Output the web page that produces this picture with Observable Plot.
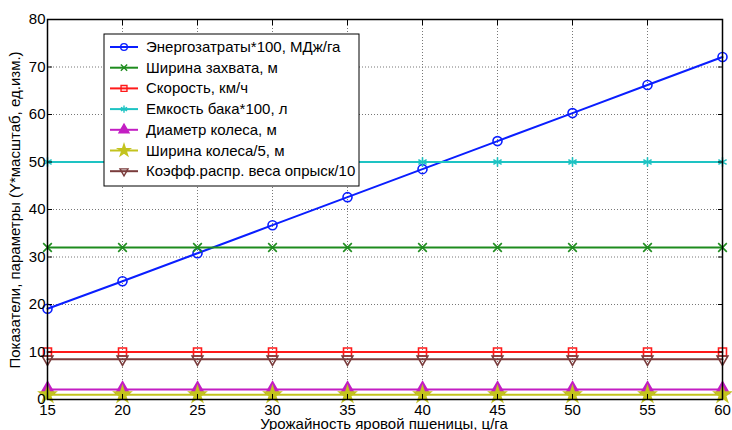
<!DOCTYPE html>
<html>
<head>
<meta charset="utf-8">
<script src="https://cdn.jsdelivr.net/npm/d3@7"></script>
<script src="https://cdn.jsdelivr.net/npm/@observablehq/plot@0.6"></script>
<style>
  html, body { margin: 0; padding: 0; background: #fff; }
  #chart { width: 732px; height: 430px; overflow: hidden; }
  svg { font-family: "Liberation Sans", Arial, sans-serif; }
</style>
</head>
<body>
<div id="chart"></div>
<script>
const yieldX = [15, 20, 25, 30, 35, 40, 45, 50, 55, 60];
const energy = [19.1, 24.9, 30.8, 36.7, 42.6, 48.5, 54.4, 60.3, 66.2, 72.1];
const gripWidth = [32, 32, 32, 32, 32, 32, 32, 32, 32, 32];
const speed = [10, 10, 10, 10, 10, 10, 10, 10, 10, 10];
const tank = [50, 50, 50, 50, 50, 50, 50, 50, 50, 50];
const wheelDiam = [2.1, 2.1, 2.1, 2.1, 2.1, 2.1, 2.1, 2.1, 2.1, 2.1];
const wheelWidth = [1.0, 1.0, 1.0, 1.0, 1.0, 1.0, 1.0, 1.0, 1.0, 1.0];
const coeff = [8.5, 8.5, 8.5, 8.5, 8.5, 8.5, 8.5, 8.5, 8.5, 8.5];

const seriesNames = [
  "Энергозатраты*100, МДж/га",
  "Ширина захвата, м",
  "Скорость, км/ч",
  "Емкость бака*100, л",
  "Диаметр колеса, м",
  "Ширина колеса/5, м",
  "Коэфф.распр. веса опрыск/10"
];
const xTicks = [15, 20, 25, 30, 35, 40, 45, 50, 55, 60];
const yTicks = [0, 10, 20, 30, 40, 50, 60, 70, 80];
const xLabel = "Урожайность яровой пшеницы, ц/га";
const yLabel = "Показатели, параметры (Y*масштаб, ед.изм.)";

const triDown = {
  draw(context, size) {
    const s3 = Math.sqrt(3);
    const y = -Math.sqrt(size / (s3 * 3));
    context.moveTo(0, -y * 2);
    context.lineTo(-s3 * y, y);
    context.lineTo(s3 * y, y);
    context.closePath();
  }
};

const styles = [
  {color: "#0a1eff", symbol: "circle", fill: "none", r: 4.5},
  {color: "#1e8c1e", symbol: "times", fill: "none", r: 4},
  {color: "#ff1a1a", symbol: "square", fill: "none", r: 4.5},
  {color: "#1ec3c3", symbol: "asterisk", fill: "none", r: 4.5},
  {color: "#c31ec3", symbol: "triangle", fill: "#c31ec3", r: 5},
  {color: "#c3c31e", symbol: "star", fill: "#c3c31e", r: 5},
  {color: "#7a3c3c", symbol: triDown, fill: "none", r: 4}
];
const seriesValues = [energy, gripWidth, speed, tank, wheelDiam, wheelWidth, coeff];

const rows = [];
seriesValues.forEach((vals, i) => vals.forEach((v, j) => rows.push({s: i, x: yieldX[j], y: v})));

const marks = [
  Plot.gridX(xTicks, {stroke: "#777", strokeOpacity: 1, strokeDasharray: "1,2"}),
  Plot.gridY(yTicks, {stroke: "#777", strokeOpacity: 1, strokeDasharray: "1,2"}),
];
styles.forEach((st, i) => {
  const d = rows.filter(r => r.s === i);
  marks.push(Plot.line(d, {x: "x", y: "y", stroke: st.color, strokeWidth: 2}));
  marks.push(Plot.dot(d, {x: "x", y: "y", stroke: st.color, fill: st.fill, symbol: () => st.symbol, r: st.r, strokeWidth: 1.6}));
});
marks.push(
  Plot.axisX(xTicks, {anchor: "bottom", tickSize: -5, tickPadding: 10, fontSize: 15, fill: "#000", stroke: "#000", label: null}),
  Plot.axisX(xTicks, {anchor: "top", tickSize: -5, text: null, stroke: "#000", label: null}),
  Plot.axisY(yTicks, {anchor: "left", tickSize: -5, tickPadding: 7, fontSize: 15, fill: "#000", stroke: "#000", label: null}),
  Plot.axisY(yTicks, {anchor: "right", tickSize: -5, text: null, stroke: "#000", label: null}),
  Plot.frame({stroke: "#000", strokeWidth: 1.5})
);

const svg = Plot.plot({
  width: 732,
  height: 430,
  marginLeft: 47,
  marginRight: 10,
  marginTop: 19,
  marginBottom: 31,
  x: {domain: [15, 60]},
  y: {domain: [0, 80]},
  style: {fontFamily: "'Liberation Sans', Arial, sans-serif", fontSize: "14px", background: "#fff"},
  marks
});

const sel = d3.select(svg);
sel.append("text")
  .attr("x", 384).attr("y", 429)
  .attr("text-anchor", "middle")
  .attr("font-size", 15)
  .attr("fill", "#000")
  .text(xLabel);
sel.append("text")
  .attr("transform", "translate(20,210) rotate(-90)")
  .attr("text-anchor", "middle")
  .attr("font-size", 15)
  .attr("fill", "#000")
  .text(yLabel);

// legend
const symbolTypes = {circle: d3.symbolCircle, times: d3.symbolTimes, square: d3.symbolSquare, asterisk: d3.symbolAsterisk, triangle: d3.symbolTriangle, star: d3.symbolStar};
const lg = sel.append("g").attr("transform", "translate(104,34)");
lg.append("rect").attr("width", 255).attr("height", 152).attr("fill", "#fff").attr("stroke", "#000").attr("stroke-width", 1);
styles.forEach((st, i) => {
  const yy = 13 + i * 20.7;
  lg.append("line").attr("x1", 6).attr("x2", 34).attr("y1", yy).attr("y2", yy)
    .attr("stroke", st.color).attr("stroke-width", 2);
  const symType = typeof st.symbol === "string" ? symbolTypes[st.symbol] : st.symbol;
  lg.append("path")
    .attr("transform", `translate(20,${yy})`)
    .attr("d", d3.symbol(symType, Math.PI * st.r * st.r * 0.55)())
    .attr("fill", st.fill).attr("stroke", st.color).attr("stroke-width", 1.4);
  lg.append("text").attr("x", 42).attr("y", yy + 5).attr("font-size", 15).attr("fill", "#000")
    .attr("text-anchor", "start")
    .text(seriesNames[i]);
});

document.getElementById("chart").appendChild(svg);
</script>
</body>
</html>
